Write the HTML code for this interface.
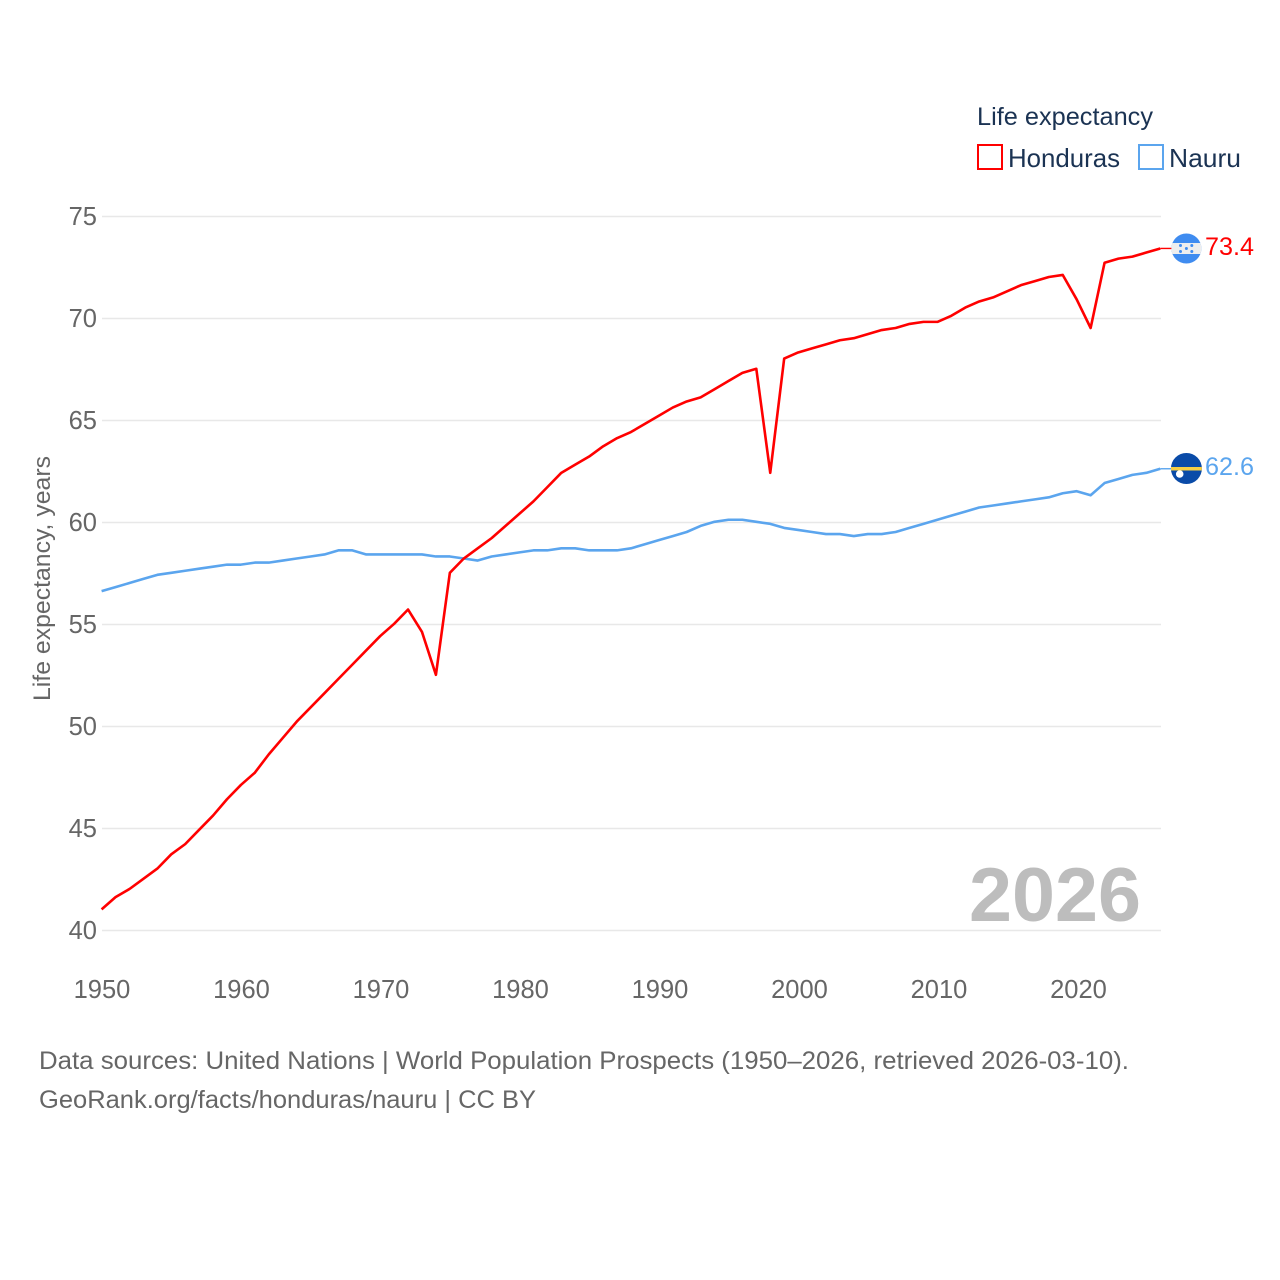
<!DOCTYPE html>
<html lang="en">
<head>
<meta charset="utf-8">
<title>Life expectancy: Honduras vs Nauru</title>
<style>
html,body{margin:0;padding:0;background:#fff;}
svg{display:block;}
text{font-family:"Liberation Sans",sans-serif;}
</style>
</head>
<body>
<svg id="chart" xmlns="http://www.w3.org/2000/svg" width="1280" height="1280" viewBox="0 0 1280 1280">
  <defs>
    <clipPath id="clip-hn"><circle cx="1186.4" cy="248.5" r="15"/></clipPath>
    <clipPath id="clip-nr"><circle cx="1186.4" cy="468.5" r="15.5"/></clipPath>
  </defs>
  <rect x="0" y="0" width="1280" height="1280" fill="#fff"/>
  <g id="grid"></g>
  <g id="y-ticks"></g>
  <g id="x-ticks"></g>
  <text transform="translate(50,701) rotate(-90)" font-size="24" fill="#666" textLength="245" lengthAdjust="spacingAndGlyphs">Life expectancy, years</text>
  <text x="969" y="921" font-size="76" font-weight="700" fill="#bdbdbd" textLength="172" lengthAdjust="spacingAndGlyphs">2026</text>
  <g id="series"></g>

  <g clip-path="url(#clip-hn)">
    <rect x="1170" y="233" width="33" height="32" fill="#3f8cf0"/>
    <rect x="1170" y="243" width="33" height="11" fill="#eeeeee"/>
    <g fill="#3f8cf0">
      <circle cx="1180.5" cy="245.5" r="1.5"/><circle cx="1191.8" cy="245.5" r="1.5"/>
      <circle cx="1186.4" cy="248.5" r="1.5"/>
      <circle cx="1180.5" cy="251.5" r="1.5"/><circle cx="1191.8" cy="251.5" r="1.5"/>
    </g>
  </g>
  <g clip-path="url(#clip-nr)">
    <rect x="1170" y="452" width="33" height="33" fill="#0a4ba8"/>
    <rect x="1170" y="467" width="33" height="3.5" fill="#f7cf45"/>
    <circle cx="1179.7" cy="474" r="3.8" fill="#fff"/>
  </g>
  <text x="1205" y="255" font-size="25" fill="#ff0000" textLength="49" lengthAdjust="spacingAndGlyphs">73.4</text>
  <text x="1205" y="475" font-size="25" fill="#5ba5ee" textLength="49" lengthAdjust="spacingAndGlyphs">62.6</text>

  <g>
    <text x="977" y="125" font-size="25" fill="#1b3353" textLength="176" lengthAdjust="spacingAndGlyphs">Life expectancy</text>
    <rect x="978" y="145" width="24" height="24" fill="none" stroke="#ff0000" stroke-width="2"/>
    <text x="1008" y="167" font-size="26" fill="#1b3353" textLength="112" lengthAdjust="spacingAndGlyphs">Honduras</text>
    <rect x="1139" y="145" width="24" height="24" fill="none" stroke="#5ba5ee" stroke-width="2"/>
    <text x="1169" y="167" font-size="26" fill="#1b3353" textLength="72" lengthAdjust="spacingAndGlyphs">Nauru</text>
  </g>

  <text x="39" y="1069" font-size="25" fill="#666" textLength="1090" lengthAdjust="spacingAndGlyphs">Data sources: United Nations | World Population Prospects (1950–2026, retrieved 2026-03-10).</text>
  <text x="39" y="1108" font-size="25" fill="#666" textLength="497" lengthAdjust="spacingAndGlyphs">GeoRank.org/facts/honduras/nauru | CC BY</text>
</svg>
<script>
const startYear = 1950;
const yTickValues = [40, 45, 50, 55, 60, 65, 70, 75];
const xTickValues = [1950, 1960, 1970, 1980, 1990, 2000, 2010, 2020];
const honduras = [
  41.0, 41.6, 42.0, 42.5, 43.0, 43.7, 44.2, 44.9, 45.6, 46.4,
  47.1, 47.7, 48.6, 49.4, 50.2, 50.9, 51.6, 52.3, 53.0, 53.7,
  54.4, 55.0, 55.7, 54.6, 52.5, 57.5, 58.2, 58.7, 59.2, 59.8,
  60.4, 61.0, 61.7, 62.4, 62.8, 63.2, 63.7, 64.1, 64.4, 64.8,
  65.2, 65.6, 65.9, 66.1, 66.5, 66.9, 67.3, 67.5, 62.4, 68.0,
  68.3, 68.5, 68.7, 68.9, 69.0, 69.2, 69.4, 69.5, 69.7, 69.8,
  69.8, 70.1, 70.5, 70.8, 71.0, 71.3, 71.6, 71.8, 72.0, 72.1,
  70.9, 69.5, 72.7, 72.9, 73.0, 73.2, 73.4
];
const nauru = [
  56.6, 56.8, 57.0, 57.2, 57.4, 57.5, 57.6, 57.7, 57.8, 57.9,
  57.9, 58.0, 58.0, 58.1, 58.2, 58.3, 58.4, 58.6, 58.6, 58.4,
  58.4, 58.4, 58.4, 58.4, 58.3, 58.3, 58.2, 58.1, 58.3, 58.4,
  58.5, 58.6, 58.6, 58.7, 58.7, 58.6, 58.6, 58.6, 58.7, 58.9,
  59.1, 59.3, 59.5, 59.8, 60.0, 60.1, 60.1, 60.0, 59.9, 59.7,
  59.6, 59.5, 59.4, 59.4, 59.3, 59.4, 59.4, 59.5, 59.7, 59.9,
  60.1, 60.3, 60.5, 60.7, 60.8, 60.9, 61.0, 61.1, 61.2, 61.4,
  61.5, 61.3, 61.9, 62.1, 62.3, 62.4, 62.6
];

const NS = 'http://www.w3.org/2000/svg';
function xScale(year) { return 101.6 + (year - 1950) * 13.93; }
function yScale(v) { return 929.8 - (v - 40) * 20.4; }
function gridY(v) { return 930.5 - (v - 40) * 20.4; }
function tickX(year) { return 102 + (year - 1950) * 13.95; }

const gridGroup = document.getElementById('grid');
const yGroup = document.getElementById('y-ticks');
const xGroup = document.getElementById('x-ticks');
const seriesGroup = document.getElementById('series');

yTickValues.forEach(function (v) {
  const line = document.createElementNS(NS, 'line');
  
  
  line.setAttribute('x1', 102);
  line.setAttribute('x2', 1161);
  line.setAttribute('y1', gridY(v));
  line.setAttribute('y2', gridY(v));
  line.setAttribute('stroke', '#e8e8e8');
  line.setAttribute('stroke-width', '1.4');
  gridGroup.appendChild(line);

  const label = document.createElementNS(NS, 'text');
  
  
  label.setAttribute('x', 97);
  label.setAttribute('y', gridY(v) + 8.5);
  label.setAttribute('text-anchor', 'end');
  label.setAttribute('font-size', '25.5');
  label.setAttribute('fill', '#666');
  label.textContent = String(v);
  yGroup.appendChild(label);
});

xTickValues.forEach(function (year) {
  const label = document.createElementNS(NS, 'text');
  
  
  label.setAttribute('x', tickX(year));
  label.setAttribute('y', 998);
  label.setAttribute('text-anchor', 'middle');
  label.setAttribute('font-size', '25.5');
  label.setAttribute('fill', '#666');
  label.textContent = String(year);
  xGroup.appendChild(label);
});

function linePoints(values) {
  return values.map(function (v, i) {
    return xScale(startYear + i).toFixed(2) + ',' + yScale(v).toFixed(2);
  }).join(' ');
}

function lastPointY(values) {
  return yScale(values[values.length - 1]).toFixed(2);
}

function lastPointX(values) {
  return xScale(startYear + values.length - 1).toFixed(2);
}

const nauruLine = document.createElementNS(NS, 'polyline');


nauruLine.setAttribute('points', linePoints(nauru));
nauruLine.setAttribute('fill', 'none');
nauruLine.setAttribute('stroke', '#5ba5ee');
nauruLine.setAttribute('stroke-width', '2.6');
nauruLine.setAttribute('stroke-linejoin', 'round');
seriesGroup.appendChild(nauruLine);

const nauruConnector = document.createElementNS(NS, 'line');


nauruConnector.setAttribute('x1', lastPointX(nauru));
nauruConnector.setAttribute('x2', 1172);
nauruConnector.setAttribute('y1', lastPointY(nauru));
nauruConnector.setAttribute('y2', lastPointY(nauru));
nauruConnector.setAttribute('stroke', '#5ba5ee');
nauruConnector.setAttribute('stroke-width', '1.4');
seriesGroup.appendChild(nauruConnector);

const hondurasLine = document.createElementNS(NS, 'polyline');


hondurasLine.setAttribute('points', linePoints(honduras));
hondurasLine.setAttribute('fill', 'none');
hondurasLine.setAttribute('stroke', '#ff0000');
hondurasLine.setAttribute('stroke-width', '2.6');
hondurasLine.setAttribute('stroke-linejoin', 'round');
seriesGroup.appendChild(hondurasLine);

const hondurasConnector = document.createElementNS(NS, 'line');


hondurasConnector.setAttribute('x1', lastPointX(honduras));
hondurasConnector.setAttribute('x2', 1172);
hondurasConnector.setAttribute('y1', lastPointY(honduras));
hondurasConnector.setAttribute('y2', lastPointY(honduras));
hondurasConnector.setAttribute('stroke', '#ff0000');
hondurasConnector.setAttribute('stroke-width', '1.4');
seriesGroup.appendChild(hondurasConnector);
</script>
</body>
</html>
